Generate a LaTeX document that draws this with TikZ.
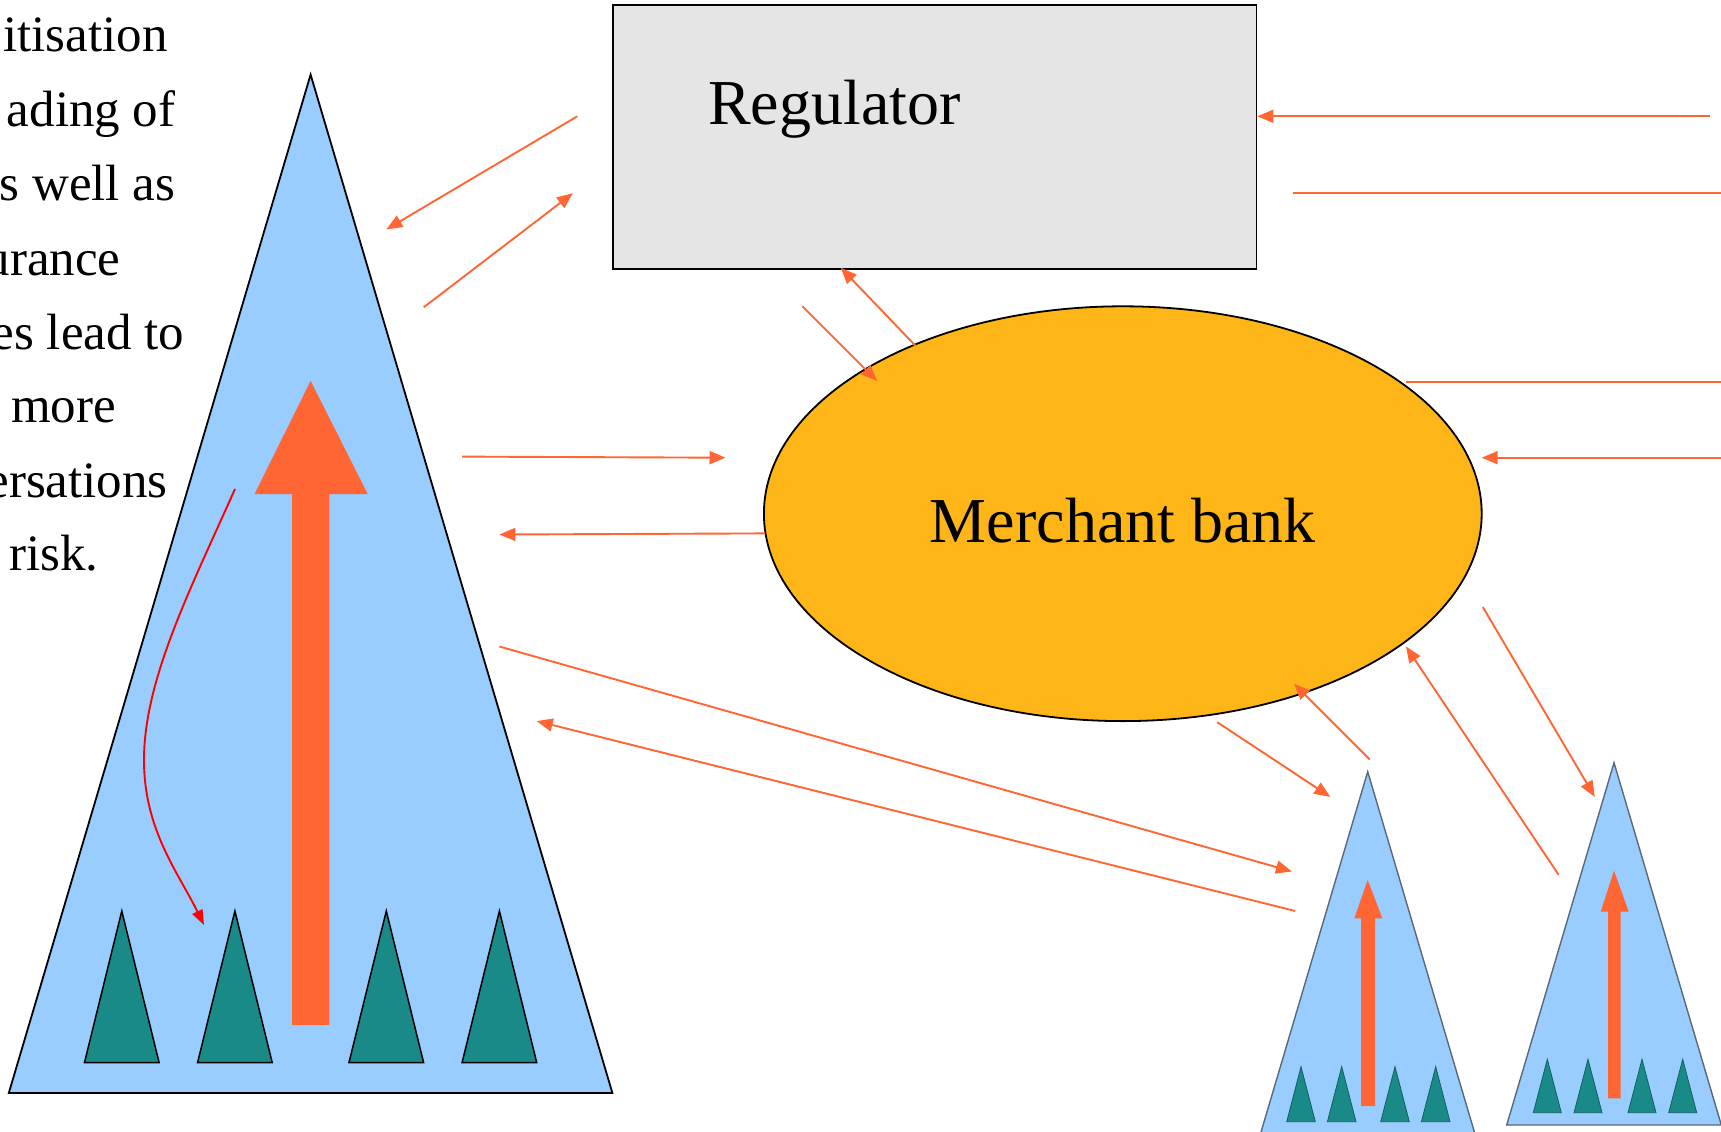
\documentclass[tikz,border=0pt]{standalone}
\usepackage{fontspec}
\setmainfont{Liberation Serif}
\usetikzlibrary{arrows.meta,shapes.geometric}
\definecolor{corange}{RGB}{255,102,51}
\definecolor{cblue}{RGB}{153,204,255}
\definecolor{cteal}{RGB}{25,138,135}
\definecolor{cgray}{RGB}{229,229,229}
\definecolor{cyellow}{RGB}{253,181,24}
\definecolor{cedge}{RGB}{90,105,120}
\tikzset{
  oline/.style={draw=corange, line width=1.9pt},
  oarrow/.style={oline, -{Triangle[length=16pt,width=13pt]}},
  bigtri/.style={fill=cblue, draw=black, line width=1.8pt, line join=miter},
  smalltri/.style={fill=cblue, draw=cedge, line width=1.4pt},
  tealtri/.style={fill=cteal, draw=black, line width=1.5pt},
  tealsm/.style={fill=cteal, draw=cteal!70!black, line width=0.8pt},
  sidetext/.style={font=\fontsize{51}{74}\selectfont, inner sep=0pt},
  bigtext/.style={font=\fontsize{64}{70}\selectfont, inner sep=0pt},
}
\begin{document}
\begin{tikzpicture}[x=1pt,y=-1pt]
\useasboundingbox (0,0) rectangle (1721,1132);
\clip (0,0) rectangle (1721,1132);
\fill[white] (0,0) rectangle (1721,1132);

% left text (clipped by page edge in the reference)
\node[sidetext, anchor=base east] (t1) at (167.9,51.6) {itisation};
\node[sidetext, anchor=base east] (t2) at (175.6,126.2) {ading of};
\node[sidetext, anchor=base east] (t3) at (175.6,200.9) {s well as};
\node[sidetext, anchor=base east] (t4) at (120.7,275.5) {urance};
\node[sidetext, anchor=base east] (t5) at (184.4,349.0) {es lead to};
\node[sidetext, anchor=base east] (t6) at (116.3,422.6) {more};
\node[sidetext, anchor=base east] (t7) at (167.9,497.2) {ersations};
\node[sidetext, anchor=base east] (t8) at (98.8,570.7) {risk.};

% big triangle
\coordinate (bA) at (310.6,74.6);
\coordinate (bL) at (8.8,1093);
\coordinate (bR) at (612.4,1093);
\draw[bigtri] (bA) -- (bR) -- (bL) -- cycle;
\foreach \x in {121.8,234.9,386.3,499.4}{
  \draw[tealtri] (\x,911) -- (\x+37.3,1062.5) -- (\x-37.3,1062.5) -- cycle;
}
% big orange arrow
\fill[corange] (292,1025) -- (292,494) -- (254.6,494) -- (310.6,380.9) -- (367.7,494) -- (329.3,494) -- (329.3,1025) -- cycle;
% red curved arrow
\coordinate (rs) at (235,489);
\coordinate (re) at (204,925);
\draw[red, line width=1.9pt, -{Triangle[length=15pt,width=11pt]}]
  (rs) .. controls (190,590) and (144,680) .. (144,760)
       .. controls (144,830) and (178,872) .. (re);

% regulator
\node[draw=black, fill=cgray, line width=1.8pt, minimum width=643.2pt, minimum height=263.4pt, inner sep=0pt, anchor=north west] (reg) at (612.4,4.4) {};
\node[bigtext, anchor=base west] (regt) at (708,124) {Regulator};

% merchant bank
\node[ellipse, draw=black, fill=cyellow, line width=1.8pt, minimum width=717.8pt, minimum height=414.8pt, inner sep=0pt] (mb) at (1122.8,513.7) {};
\node[bigtext, anchor=base] (mbt) at (1122.8,542) {Merchant bank};

% small triangle 1
\coordinate (s1A) at (1367.7,771.7);
\draw[smalltri] (s1A) -- (1367.7+128,1204) -- (1367.7-128,1204) -- cycle;
\foreach \x in {1301,1341.7,1395,1435.7}{
  \draw[tealsm] (\x,1066.7) -- (\x+14.3,1121.7) -- (\x-14.3,1121.7) -- cycle;
}
\fill[corange] (1361,1106) -- (1361,918.3) -- (1354.3,918.3) -- (1367.7,880) -- (1382.3,918.3) -- (1375,918.3) -- (1375,1106) -- cycle;

% small triangle 2
\coordinate (s2A) at (1614,762.7);
\draw[smalltri] (s2A) -- (1721.3,1125) -- (1506.7,1125) -- cycle;
\foreach \x in {1547.3,1588,1642,1682.7}{
  \draw[tealsm] (\x,1059.3) -- (\x+14,1112.7) -- (\x-14,1112.7) -- cycle;
}
\fill[corange] (1608,1098.3) -- (1608,911.7) -- (1600.7,911.7) -- (1614,870.7) -- (1628.7,911.7) -- (1620.7,911.7) -- (1620.7,1098.3) -- cycle;

% connector end points
\coordinate (a1s) at (577.3,116.3);  \coordinate (a1e) at (386.4,229.4);
\coordinate (a2s) at (423.7,307.3);  \coordinate (a2e) at (572.9,193.2);
\coordinate (a3s) at (1710,116.3);   \coordinate (a3e) at (reg.east |- 0,116.3);
\coordinate (a4s) at (1293,193.2);   \coordinate (a4e) at (1721,193.2);
\coordinate (a5s) at (915.4,345.7);  \coordinate (a5e) at (840.8,267.8);
\coordinate (a6s) at (802.3,306.2);  \coordinate (a6e) at (877,380.9);
\coordinate (a7s) at (1406,382);     \coordinate (a7e) at (1721,382);
\coordinate (a8s) at (1721,457.7);   \coordinate (a8e) at (1481.7,457.7);
\coordinate (a9s) at (462,456.6);    \coordinate (a9e) at (725.5,457.7);
\coordinate (a10s) at (765,533.4);   \coordinate (a10e) at (499.4,534.5);
\coordinate (a11s) at (499.4,646.5); \coordinate (a11e) at (1291.9,871.5);
\coordinate (a12s) at (1295.2,911);  \coordinate (a12e) at (536.7,721.1);
\coordinate (a13s) at (1217.2,722.2);\coordinate (a13e) at (1330.3,796.9);
\coordinate (a14s) at (1369.8,759.5);\coordinate (a14e) at (1294,683.8);
\coordinate (a15s) at (1558.6,874.8);\coordinate (a15e) at (1406,646.5);
\coordinate (a16s) at (1482.8,607);  \coordinate (a16e) at (1594.8,796.9);

\draw[oarrow] (a1s) -- (a1e);
\draw[oarrow] (a2s) -- (a2e);
\draw[oarrow] (a3s) -- (a3e);
\draw[oline]  (a4s) -- (a4e);
\draw[oarrow] (a5s) -- (a5e);
\draw[oarrow] (a6s) -- (a6e);
\draw[oline]  (a7s) -- (a7e);
\draw[oarrow] (a8s) -- (a8e);
\draw[oarrow] (a9s) -- (a9e);
\draw[oarrow] (a10s) -- (a10e);
\draw[oarrow] (a11s) -- (a11e);
\draw[oarrow] (a12s) -- (a12e);
\draw[oarrow] (a13s) -- (a13e);
\draw[oarrow] (a14s) -- (a14e);
\draw[oarrow] (a15s) -- (a15e);
\draw[oarrow] (a16s) -- (a16e);
\end{tikzpicture}
\end{document}
